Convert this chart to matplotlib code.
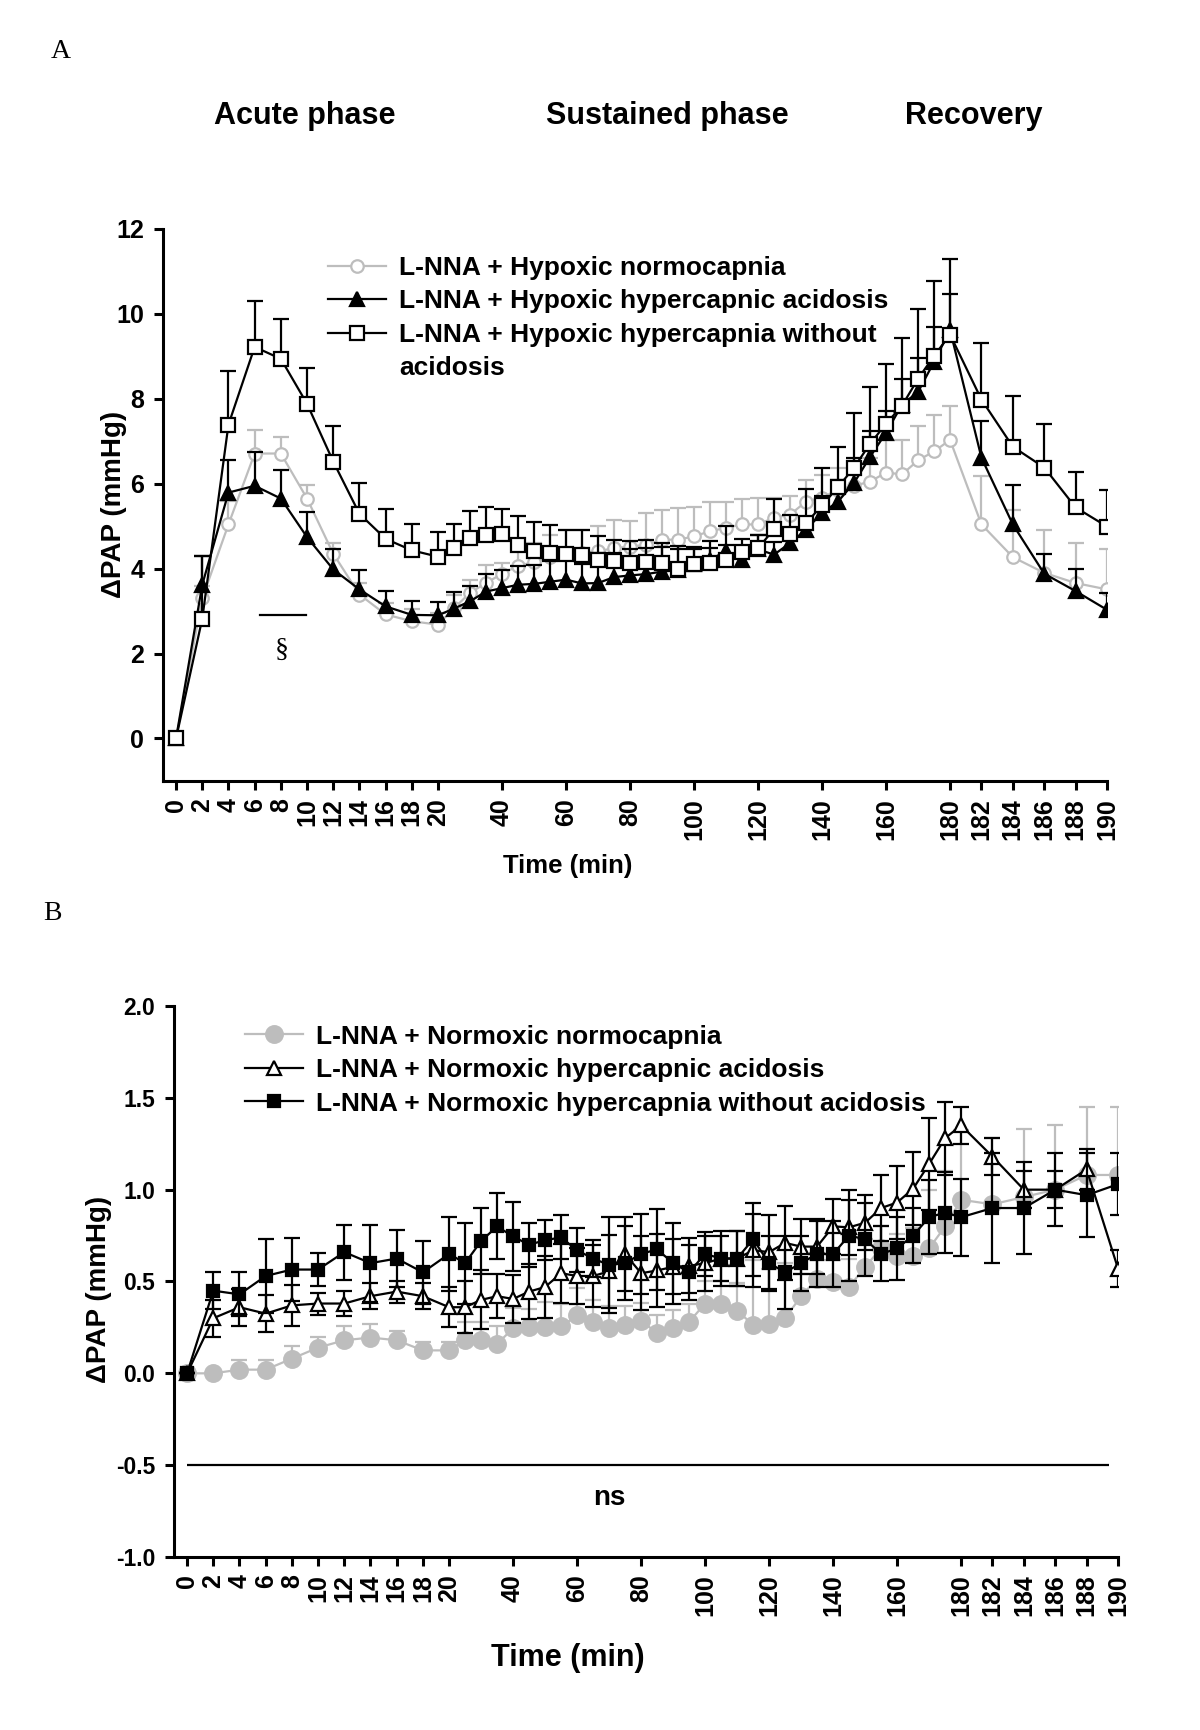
import numpy as np
import matplotlib
matplotlib.use("Agg")
import matplotlib.pyplot as plt
from matplotlib.lines import Line2D

plt.rcParams['font.family'] = ['Liberation Sans', 'DejaVu Sans']
plt.rcParams['font.weight'] = 'bold'
plt.rcParams['axes.labelweight'] = 'bold'

# sampling times (min)
time = [0, 2, 4, 6, 8, 10, 12, 14, 16, 18, 20,
        25, 30, 35, 40, 45, 50, 55, 60, 65, 70, 75, 80, 85, 90, 95, 100,
        105, 110, 115, 120, 125, 130, 135, 140, 145, 150, 155, 160, 165,
        170, 175, 180, 182, 184, 186, 188, 190]
xticks = [0, 2, 4, 6, 8, 10, 12, 14, 16, 18, 20, 40, 60, 80, 100, 120,
          140, 160, 180, 182, 184, 186, 188, 190]

# ---- panel A: hypoxia ----
a_normo = [0, 3.3, 5.04, 6.71, 6.71, 5.65, 4.35, 3.39, 2.92, 2.76, 2.68,
           3.07, 3.43, 3.66, 3.88, 4.06, 4.16, 4.28, 4.37, 4.37, 4.41, 4.48,
           4.52, 4.56, 4.68, 4.68, 4.76, 4.88, 4.96, 5.04, 5.04, 5.2, 5.27,
           5.58, 5.67, 5.86, 5.95, 6.05, 6.26, 6.22, 6.55, 6.76, 7.03,
           5.04, 4.27, 3.9, 3.66, 3.51]
a_normo_err = [0, 0.3, 0.55, 0.56, 0.4, 0.33, 0.26, 0.27, 0.28, 0.28, 0.28,
               0.3, 0.31, 0.43, 0.25, 0.38, 0.44, 0.5, 0.55, 0.55, 0.59, 0.67,
               0.6, 0.75, 0.7, 0.75, 0.7, 0.7, 0.62, 0.59, 0.63, 0.47, 0.45,
               0.51, 0.54, 0.51, 0.46, 0.55, 0.78, 0.82, 0.8, 0.86, 0.8,
               1.13, 1.1, 1.02, 0.95, 0.94]
a_acid = [0, 3.62, 5.79, 5.95, 5.65, 4.74, 3.98, 3.51, 3.11, 2.91, 2.9,
          3.06, 3.23, 3.46, 3.54, 3.62, 3.64, 3.69, 3.74, 3.65, 3.66, 3.8,
          3.84, 3.87, 3.93, 3.96, 4.12, 4.21, 4.41, 4.21, 4.45, 4.33, 4.6,
          4.92, 5.31, 5.58, 6.02, 6.63, 7.2, 7.86, 8.16, 8.87, 9.62,
          6.61, 5.04, 3.88, 3.47, 3.03]
a_acid_err = [0, 0.68, 0.77, 0.8, 0.68, 0.6, 0.49, 0.45, 0.37, 0.32, 0.31,
              0.38, 0.37, 0.41, 0.42, 0.45, 0.45, 0.48, 0.51, 0.45, 0.71, 0.57,
              0.61, 0.62, 0.59, 0.5, 0.4, 0.45, 0.59, 0.3, 0.35, 0.3, 0.3,
              0.3, 0.4, 0.5, 0.58, 0.62, 0.5, 0.61, 0.8, 0.82, 0.85,
              0.87, 0.92, 0.47, 0.51, 0.4]
a_noacid = [0, 2.82, 7.39, 9.22, 8.94, 7.88, 6.52, 5.29, 4.7, 4.43, 4.28,
            4.49, 4.73, 4.8, 4.81, 4.55, 4.41, 4.37, 4.35, 4.31, 4.21, 4.17,
            4.13, 4.16, 4.13, 3.98, 4.12, 4.13, 4.21, 4.39, 4.48, 4.93, 4.82,
            5.07, 5.49, 5.92, 6.38, 6.94, 7.41, 7.84, 8.47, 9.01, 9.51,
            7.98, 6.87, 6.38, 5.44, 4.99]
a_noacid_err = [0, 1.48, 1.27, 1.08, 0.94, 0.85, 0.84, 0.73, 0.7, 0.63, 0.59,
                0.57, 0.62, 0.66, 0.6, 0.7, 0.68, 0.66, 0.57, 0.61, 0.55, 0.51,
                0.52, 0.51, 0.47, 0.56, 0.35, 0.35, 0.35, 0.3, 0.3, 0.7, 0.45,
                0.8, 0.88, 0.95, 1.28, 1.34, 1.41, 1.6, 1.65, 1.77, 1.79,
                1.33, 1.2, 1.03, 0.84, 0.87]

# ---- panel B: normoxia ----
b_normo = [0, 0.0, 0.02, 0.02, 0.08, 0.14, 0.18, 0.195, 0.18, 0.125, 0.125,
           0.18, 0.18, 0.16, 0.245, 0.25, 0.25, 0.255, 0.315, 0.28, 0.245,
           0.265, 0.285, 0.22, 0.245, 0.28, 0.38, 0.38, 0.34, 0.265, 0.27,
           0.3, 0.42, 0.515, 0.495, 0.47, 0.58, 0.68, 0.64, 0.64, 0.68, 0.8,
           0.945, 0.92, 0.96, 1.0, 1.08, 1.08]
b_normo_err = [0, 0, 0.05, 0.05, 0.07, 0.06, 0.08, 0.075, 0.05, 0.045, 0.045,
               0.1, 0.1, 0.1, 0.11, 0.1, 0.14, 0.12, 0.15, 0.12, 0.12, 0.1,
               0.1, 0.1, 0.1, 0.1, 0.12, 0.12, 0.15, 0.35, 0.3, 0.3, 0.12,
               0.1, 0.12, 0.15, 0.15, 0.12, 0.12, 0.15, 0.32, 0.3, 0.38,
               0.36, 0.37, 0.35, 0.37, 0.37]
b_acid = [0, 0.3, 0.36, 0.325, 0.37, 0.38, 0.38, 0.42, 0.445, 0.42, 0.36,
          0.36, 0.4, 0.42, 0.405, 0.445, 0.47, 0.545, 0.53, 0.53, 0.555,
          0.65, 0.545, 0.56, 0.58, 0.585, 0.6, 0.625, 0.625, 0.67, 0.66,
          0.71, 0.69, 0.69, 0.8, 0.795, 0.82, 0.9, 0.93, 1.005, 1.14, 1.28,
          1.35, 1.18, 1.0, 1.0, 1.11, 0.57]
b_acid_err = [0, 0.1, 0.1, 0.1, 0.11, 0.06, 0.07, 0.07, 0.06, 0.07, 0.11,
              0.14, 0.16, 0.12, 0.13, 0.15, 0.17, 0.16, 0.15, 0.17, 0.2, 0.2,
              0.2, 0.2, 0.15, 0.15, 0.15, 0.15, 0.15, 0.2, 0.2, 0.2, 0.15,
              0.15, 0.15, 0.15, 0.15, 0.18, 0.2, 0.2, 0.25, 0.2, 0.1,
              0.1, 0.1, 0.1, 0.11, 0.1]
b_noacid = [0, 0.45, 0.43, 0.53, 0.565, 0.565, 0.66, 0.6, 0.625, 0.55, 0.65,
            0.6, 0.72, 0.8, 0.745, 0.7, 0.725, 0.74, 0.67, 0.625, 0.59, 0.6,
            0.65, 0.675, 0.6, 0.55, 0.65, 0.625, 0.625, 0.73, 0.6, 0.55, 0.6,
            0.65, 0.65, 0.75, 0.73, 0.65, 0.68, 0.75, 0.85, 0.875, 0.85,
            0.9, 0.9, 1.0, 0.97, 1.03]
b_noacid_err = [0, 0.1, 0.12, 0.2, 0.17, 0.09, 0.15, 0.21, 0.155, 0.17, 0.2,
                0.22, 0.18, 0.18, 0.19, 0.12, 0.11, 0.12, 0.12, 0.1, 0.26, 0.2,
                0.22, 0.22, 0.22, 0.15, 0.12, 0.12, 0.15, 0.2, 0.15, 0.2, 0.15,
                0.18, 0.18, 0.25, 0.2, 0.15, 0.17, 0.15, 0.2, 0.22, 0.21,
                0.3, 0.25, 0.2, 0.23, 0.17]

labels_a = ['L-NNA + Hypoxic normocapnia',
            'L-NNA + Hypoxic hypercapnic acidosis',
            'L-NNA + Hypoxic hypercapnia without',
            'acidosis']
labels_b = ['L-NNA + Normoxic normocapnia',
            'L-NNA + Normoxic hypercapnic acidosis',
            'L-NNA + Normoxic hypercapnia without acidosis']

GREY = '#bdbdbd'

# time axis: 0-20 wide, 20-180 compressed, 180-190 wide
T_BP = [-1000, 20, 180, 1000]
U_BP = [-1000, 20, 20 + 160 * 0.2443, 20 + 160 * 0.2443 + 820 * 1.198]


def fwd(t):
    return np.interp(t, T_BP, U_BP)


def inv(u):
    return np.interp(u, U_BP, T_BP)


def setup(ax, ylim, yticks, yfmt, ysize):
    ax.set_xscale('function', functions=(fwd, inv))
    ax.set_xlim(-1, 190)
    ax.set_ylim(*ylim)
    ax.spines[['top', 'right']].set_visible(False)
    ax.spines[['left', 'bottom']].set_linewidth(2.2)
    ax.set_xticks(xticks)
    ax.set_xticklabels([str(t) for t in xticks], rotation=90)
    ax.set_yticks(yticks)
    ax.set_yticklabels([yfmt.format(v) for v in yticks])
    ax.tick_params(direction='out', length=6.5, width=2.2, labelsize=18)
    ax.tick_params(axis='x', pad=6)
    ax.tick_params(axis='y', pad=7, labelsize=ysize)
    ax.minorticks_off()


def series(ax, y, err, color, marker, mfc, ms, both=False, z=2):
    lower = err if both else np.zeros(len(err))
    _, caps, _ = ax.errorbar(time, y, yerr=[lower, err], fmt='none',
                             ecolor=color, elinewidth=1.6, capsize=6,
                             capthick=1.6, zorder=z)
    if not both:
        caps[0].set_visible(False)
    line, = ax.plot(time, y, color=color, lw=1.6, marker=marker, mfc=mfc,
                    mec=color, mew=1.6, ms=ms, zorder=z + 0.5)
    return line


fig = plt.figure(figsize=(12, 17.3), dpi=100)
axA = fig.add_axes([0.1358, 0.5486, 0.7867, 0.3191])
axB = fig.add_axes([0.145, 0.1, 0.7867, 0.3185])

leg_kw = dict(loc='upper left', frameon=False, fontsize=19, handlelength=2.2,
              handletextpad=0.5, labelspacing=0.36, borderpad=0, borderaxespad=0)

# panel A
setup(axA, (-1, 12), [0, 2, 4, 6, 8, 10, 12], '{:d}', 18)
hA = [series(axA, a_normo, a_normo_err, GREY, 'o', 'white', 9, z=2),
      series(axA, a_acid, a_acid_err, 'black', '^', 'black', 10, z=3),
      series(axA, a_noacid, a_noacid_err, 'black', 's', 'white', 9.5, z=4)]
hA.append(Line2D([], [], color='none'))
axA.legend(hA, labels_a, bbox_to_anchor=(0.1748, 0.951), **leg_kw)
axA.set_ylabel('ΔPAP (mmHg)', fontsize=20)
axA.yaxis.set_label_coords(-0.038, 0.5)
axA.set_xlabel('Time (min)', fontsize=18.5)
axA.xaxis.set_label_coords(0.429, -0.132)
axA.plot([6.4, 9.9], [2.9, 2.9], color='black', lw=1.6)
axA.text(8.1, 2.07, '§', ha='center', va='center', fontsize=20,
         family='Liberation Serif', weight='normal')

# panel B
setup(axB, (-1, 2), [-1.0, -0.5, 0.0, 0.5, 1.0, 1.5, 2.0], '{:.1f}', 16.5)
hB = [series(axB, b_normo, b_normo_err, GREY, 'o', GREY, 12, z=2),
      series(axB, b_acid, b_acid_err, 'black', '^', 'white', 10, both=True, z=3),
      series(axB, b_noacid, b_noacid_err, 'black', 's', 'black', 9, both=True, z=4)]
axB.legend(hB, labels_b, bbox_to_anchor=(0.0752, 0.966), **leg_kw)
axB.set_ylabel('ΔPAP (mmHg)', fontsize=20)
axB.yaxis.set_label_coords(-0.066, 0.485)
axB.set_xlabel('Time (min)', fontsize=22)
axB.xaxis.set_label_coords(0.417, -0.156)
axB.hlines(-0.5, 0, 189.4, color='black', lw=1.6)
axB.text(70, -0.68, 'ns', ha='center', va='center', fontsize=20)

# phase headings and panel letters
for x, txt in [(305, 'Acute phase'), (667, 'Sustained phase'), (974, 'Recovery')]:
    fig.text(x / 1200, 1 - 116 / 1730, txt, ha='center', va='center', fontsize=22)
fig.text(61 / 1200, 1 - 51 / 1730, 'A', ha='center', va='center', fontsize=20,
         family='Liberation Serif', weight='normal')
fig.text(52 / 1200, 1 - 913 / 1730, 'B', ha='center', va='center', fontsize=20,
         family='Liberation Serif', weight='normal')

fig.savefig('out.png', dpi=100)
